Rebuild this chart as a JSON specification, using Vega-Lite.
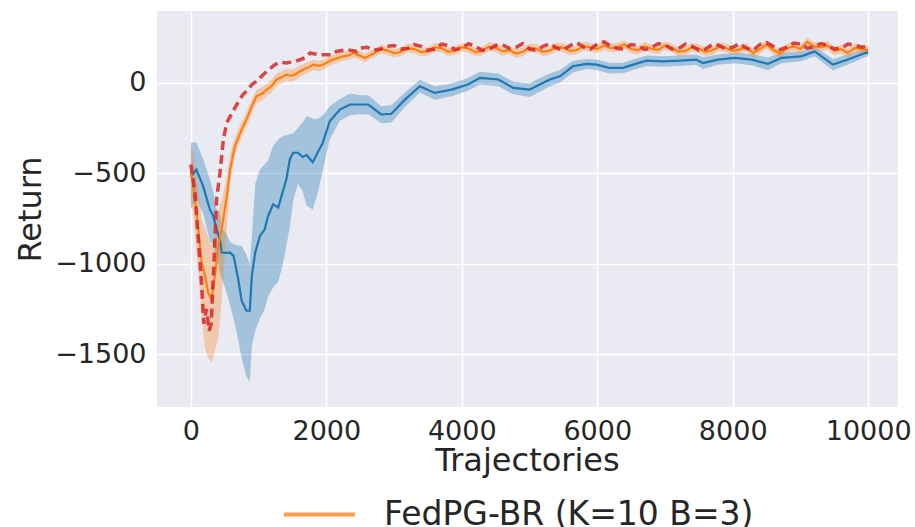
{
  "$schema": "https://vega.github.io/schema/vega-lite/v6.json",
  "width": 741,
  "height": 396,
  "autosize": {"type": "none"},
  "padding": {"left": 157, "top": 11, "right": 17, "bottom": 120},
  "background": "white",
  "config": {
    "view": {"fill": "#EAEAF2", "stroke": null},
    "axis": {
      "grid": true, "gridColor": "white", "gridWidth": 1.5,
      "domain": false, "ticks": false,
      "labelFont": "DejaVu Sans", "labelFontSize": 27, "labelColor": "#262626",
      "titleFont": "DejaVu Sans", "titleFontSize": 32, "titleFontWeight": "normal", "titleColor": "#262626"
    }
  },
  "datasets": {
    "blue": [
      {"s":"FedPG-BR (K=1)","t":0,"r":-520,"lo":-700,"hi":-330},
      {"s":"FedPG-BR (K=1)","t":80,"r":-480,"lo":-640,"hi":-330},
      {"s":"FedPG-BR (K=1)","t":180,"r":-570,"lo":-720,"hi":-420},
      {"s":"FedPG-BR (K=1)","t":280,"r":-700,"lo":-870,"hi":-534},
      {"s":"FedPG-BR (K=1)","t":330,"r":-736,"lo":-900,"hi":-600},
      {"s":"FedPG-BR (K=1)","t":380,"r":-810,"lo":-960,"hi":-700},
      {"s":"FedPG-BR (K=1)","t":430,"r":-870,"lo":-1050,"hi":-720},
      {"s":"FedPG-BR (K=1)","t":455,"r":-938,"lo":-1080,"hi":-800},
      {"s":"FedPG-BR (K=1)","t":520,"r":-940,"lo":-1150,"hi":-830},
      {"s":"FedPG-BR (K=1)","t":580,"r":-938,"lo":-1230,"hi":-880},
      {"s":"FedPG-BR (K=1)","t":630,"r":-956,"lo":-1300,"hi":-890},
      {"s":"FedPG-BR (K=1)","t":700,"r":-1085,"lo":-1420,"hi":-900},
      {"s":"FedPG-BR (K=1)","t":750,"r":-1204,"lo":-1520,"hi":-900},
      {"s":"FedPG-BR (K=1)","t":820,"r":-1259,"lo":-1620,"hi":-950},
      {"s":"FedPG-BR (K=1)","t":870,"r":-1259,"lo":-1650,"hi":-1000},
      {"s":"FedPG-BR (K=1)","t":900,"r":-1067,"lo":-1450,"hi":-850},
      {"s":"FedPG-BR (K=1)","t":950,"r":-938,"lo":-1370,"hi":-560},
      {"s":"FedPG-BR (K=1)","t":1020,"r":-846,"lo":-1300,"hi":-480},
      {"s":"FedPG-BR (K=1)","t":1090,"r":-810,"lo":-1250,"hi":-450},
      {"s":"FedPG-BR (K=1)","t":1140,"r":-736,"lo":-1180,"hi":-430},
      {"s":"FedPG-BR (K=1)","t":1215,"r":-672,"lo":-1130,"hi":-350},
      {"s":"FedPG-BR (K=1)","t":1290,"r":-690,"lo":-1100,"hi":-314},
      {"s":"FedPG-BR (K=1)","t":1360,"r":-598,"lo":-1000,"hi":-295},
      {"s":"FedPG-BR (K=1)","t":1410,"r":-534,"lo":-900,"hi":-290},
      {"s":"FedPG-BR (K=1)","t":1460,"r":-424,"lo":-800,"hi":-285},
      {"s":"FedPG-BR (K=1)","t":1510,"r":-387,"lo":-650,"hi":-280},
      {"s":"FedPG-BR (K=1)","t":1580,"r":-387,"lo":-560,"hi":-250},
      {"s":"FedPG-BR (K=1)","t":1650,"r":-410,"lo":-600,"hi":-220},
      {"s":"FedPG-BR (K=1)","t":1710,"r":-400,"lo":-680,"hi":-185},
      {"s":"FedPG-BR (K=1)","t":1800,"r":-440,"lo":-700,"hi":-200},
      {"s":"FedPG-BR (K=1)","t":1880,"r":-380,"lo":-600,"hi":-200},
      {"s":"FedPG-BR (K=1)","t":1950,"r":-330,"lo":-480,"hi":-180},
      {"s":"FedPG-BR (K=1)","t":2050,"r":-213,"lo":-314,"hi":-130},
      {"s":"FedPG-BR (K=1)","t":2200,"r":-149,"lo":-210,"hi":-90},
      {"s":"FedPG-BR (K=1)","t":2350,"r":-121,"lo":-180,"hi":-60},
      {"s":"FedPG-BR (K=1)","t":2500,"r":-121,"lo":-175,"hi":-70},
      {"s":"FedPG-BR (K=1)","t":2620,"r":-121,"lo":-175,"hi":-70},
      {"s":"FedPG-BR (K=1)","t":2810,"r":-176,"lo":-225,"hi":-130},
      {"s":"FedPG-BR (K=1)","t":2960,"r":-172,"lo":-220,"hi":-125},
      {"s":"FedPG-BR (K=1)","t":3160,"r":-94,"lo":-135,"hi":-55},
      {"s":"FedPG-BR (K=1)","t":3380,"r":-20,"lo":-55,"hi":15},
      {"s":"FedPG-BR (K=1)","t":3600,"r":-57,"lo":-95,"hi":-20},
      {"s":"FedPG-BR (K=1)","t":3850,"r":-39,"lo":-75,"hi":-5},
      {"s":"FedPG-BR (K=1)","t":4090,"r":-11,"lo":-45,"hi":25},
      {"s":"FedPG-BR (K=1)","t":4270,"r":26,"lo":-10,"hi":60},
      {"s":"FedPG-BR (K=1)","t":4540,"r":17,"lo":-20,"hi":50},
      {"s":"FedPG-BR (K=1)","t":4760,"r":-29,"lo":-65,"hi":5},
      {"s":"FedPG-BR (K=1)","t":5000,"r":-39,"lo":-80,"hi":-5},
      {"s":"FedPG-BR (K=1)","t":5150,"r":-11,"lo":-50,"hi":25},
      {"s":"FedPG-BR (K=1)","t":5300,"r":17,"lo":-20,"hi":50},
      {"s":"FedPG-BR (K=1)","t":5450,"r":35,"lo":0,"hi":70},
      {"s":"FedPG-BR (K=1)","t":5640,"r":90,"lo":55,"hi":120},
      {"s":"FedPG-BR (K=1)","t":5840,"r":103,"lo":75,"hi":130},
      {"s":"FedPG-BR (K=1)","t":5990,"r":99,"lo":70,"hi":128},
      {"s":"FedPG-BR (K=1)","t":6180,"r":81,"lo":50,"hi":110},
      {"s":"FedPG-BR (K=1)","t":6380,"r":81,"lo":52,"hi":110},
      {"s":"FedPG-BR (K=1)","t":6530,"r":99,"lo":70,"hi":128},
      {"s":"FedPG-BR (K=1)","t":6730,"r":121,"lo":92,"hi":150},
      {"s":"FedPG-BR (K=1)","t":6970,"r":117,"lo":88,"hi":145},
      {"s":"FedPG-BR (K=1)","t":7220,"r":121,"lo":92,"hi":150},
      {"s":"FedPG-BR (K=1)","t":7460,"r":127,"lo":98,"hi":155},
      {"s":"FedPG-BR (K=1)","t":7560,"r":108,"lo":75,"hi":140},
      {"s":"FedPG-BR (K=1)","t":7780,"r":127,"lo":98,"hi":155},
      {"s":"FedPG-BR (K=1)","t":8030,"r":136,"lo":107,"hi":165},
      {"s":"FedPG-BR (K=1)","t":8280,"r":127,"lo":96,"hi":158},
      {"s":"FedPG-BR (K=1)","t":8520,"r":103,"lo":68,"hi":138},
      {"s":"FedPG-BR (K=1)","t":8720,"r":136,"lo":107,"hi":165},
      {"s":"FedPG-BR (K=1)","t":9010,"r":145,"lo":118,"hi":172},
      {"s":"FedPG-BR (K=1)","t":9210,"r":172,"lo":146,"hi":198},
      {"s":"FedPG-BR (K=1)","t":9480,"r":99,"lo":68,"hi":130},
      {"s":"FedPG-BR (K=1)","t":9700,"r":127,"lo":98,"hi":155},
      {"s":"FedPG-BR (K=1)","t":9950,"r":163,"lo":140,"hi":185},
      {"s":"FedPG-BR (K=1)","t":10000,"r":165,"lo":145,"hi":185}
    ],
    "orange": [
      {"s":"FedPG-BR (K=10 B=3)","t":0,"r":-497,"lo":-650,"hi":-341},
      {"s":"FedPG-BR (K=10 B=3)","t":40,"r":-571,"lo":-760,"hi":-400},
      {"s":"FedPG-BR (K=10 B=3)","t":110,"r":-810,"lo":-1050,"hi":-600},
      {"s":"FedPG-BR (K=10 B=3)","t":160,"r":-993,"lo":-1300,"hi":-750},
      {"s":"FedPG-BR (K=10 B=3)","t":210,"r":-1067,"lo":-1470,"hi":-800},
      {"s":"FedPG-BR (K=10 B=3)","t":255,"r":-1158,"lo":-1520,"hi":-850},
      {"s":"FedPG-BR (K=10 B=3)","t":305,"r":-1195,"lo":-1544,"hi":-900},
      {"s":"FedPG-BR (K=10 B=3)","t":355,"r":-1067,"lo":-1480,"hi":-850},
      {"s":"FedPG-BR (K=10 B=3)","t":405,"r":-901,"lo":-1415,"hi":-700},
      {"s":"FedPG-BR (K=10 B=3)","t":455,"r":-810,"lo":-1200,"hi":-650},
      {"s":"FedPG-BR (K=10 B=3)","t":530,"r":-626,"lo":-800,"hi":-520},
      {"s":"FedPG-BR (K=10 B=3)","t":580,"r":-479,"lo":-560,"hi":-400},
      {"s":"FedPG-BR (K=10 B=3)","t":650,"r":-351,"lo":-400,"hi":-300},
      {"s":"FedPG-BR (K=10 B=3)","t":750,"r":-259,"lo":-300,"hi":-215},
      {"s":"FedPG-BR (K=10 B=3)","t":820,"r":-204,"lo":-245,"hi":-165},
      {"s":"FedPG-BR (K=10 B=3)","t":900,"r":-130,"lo":-170,"hi":-95},
      {"s":"FedPG-BR (K=10 B=3)","t":970,"r":-75,"lo":-112,"hi":-40},
      {"s":"FedPG-BR (K=10 B=3)","t":1050,"r":-62,"lo":-100,"hi":-25},
      {"s":"FedPG-BR (K=10 B=3)","t":1120,"r":-39,"lo":-75,"hi":-5},
      {"s":"FedPG-BR (K=10 B=3)","t":1190,"r":-20,"lo":-55,"hi":15},
      {"s":"FedPG-BR (K=10 B=3)","t":1265,"r":17,"lo":-18,"hi":50},
      {"s":"FedPG-BR (K=10 B=3)","t":1340,"r":30,"lo":-5,"hi":63},
      {"s":"FedPG-BR (K=10 B=3)","t":1410,"r":44,"lo":10,"hi":78},
      {"s":"FedPG-BR (K=10 B=3)","t":1470,"r":38,"lo":4,"hi":72},
      {"s":"FedPG-BR (K=10 B=3)","t":1535,"r":44,"lo":10,"hi":78},
      {"s":"FedPG-BR (K=10 B=3)","t":1600,"r":60,"lo":28,"hi":92},
      {"s":"FedPG-BR (K=10 B=3)","t":1660,"r":72,"lo":40,"hi":104},
      {"s":"FedPG-BR (K=10 B=3)","t":1740,"r":85,"lo":55,"hi":115},
      {"s":"FedPG-BR (K=10 B=3)","t":1810,"r":99,"lo":70,"hi":128},
      {"s":"FedPG-BR (K=10 B=3)","t":1880,"r":92,"lo":63,"hi":121},
      {"s":"FedPG-BR (K=10 B=3)","t":1950,"r":99,"lo":70,"hi":128},
      {"s":"FedPG-BR (K=10 B=3)","t":2030,"r":115,"lo":88,"hi":142},
      {"s":"FedPG-BR (K=10 B=3)","t":2100,"r":127,"lo":101,"hi":153},
      {"s":"FedPG-BR (K=10 B=3)","t":2170,"r":135,"lo":110,"hi":160},
      {"s":"FedPG-BR (K=10 B=3)","t":2250,"r":145,"lo":120,"hi":170},
      {"s":"FedPG-BR (K=10 B=3)","t":2330,"r":150,"lo":126,"hi":174},
      {"s":"FedPG-BR (K=10 B=3)","t":2400,"r":163,"lo":139,"hi":187},
      {"s":"FedPG-BR (K=10 B=3)","t":2490,"r":150,"lo":126,"hi":174},
      {"s":"FedPG-BR (K=10 B=3)","t":2570,"r":136,"lo":112,"hi":160},
      {"s":"FedPG-BR (K=10 B=3)","t":2640,"r":150,"lo":126,"hi":174},
      {"s":"FedPG-BR (K=10 B=3)","t":2700,"r":160,"lo":136,"hi":184},
      {"s":"FedPG-BR (K=10 B=3)","t":2800,"r":185,"lo":161,"hi":209},
      {"s":"FedPG-BR (K=10 B=3)","t":2900,"r":178,"lo":154,"hi":202},
      {"s":"FedPG-BR (K=10 B=3)","t":3000,"r":162,"lo":138,"hi":186},
      {"s":"FedPG-BR (K=10 B=3)","t":3100,"r":170,"lo":146,"hi":194},
      {"s":"FedPG-BR (K=10 B=3)","t":3200,"r":190,"lo":166,"hi":214},
      {"s":"FedPG-BR (K=10 B=3)","t":3300,"r":185,"lo":161,"hi":209},
      {"s":"FedPG-BR (K=10 B=3)","t":3400,"r":168,"lo":144,"hi":192},
      {"s":"FedPG-BR (K=10 B=3)","t":3500,"r":172,"lo":148,"hi":196},
      {"s":"FedPG-BR (K=10 B=3)","t":3600,"r":195,"lo":171,"hi":219},
      {"s":"FedPG-BR (K=10 B=3)","t":3700,"r":190,"lo":166,"hi":214},
      {"s":"FedPG-BR (K=10 B=3)","t":3800,"r":170,"lo":146,"hi":194},
      {"s":"FedPG-BR (K=10 B=3)","t":3900,"r":176,"lo":152,"hi":200},
      {"s":"FedPG-BR (K=10 B=3)","t":4000,"r":195,"lo":171,"hi":219},
      {"s":"FedPG-BR (K=10 B=3)","t":4100,"r":188,"lo":164,"hi":212},
      {"s":"FedPG-BR (K=10 B=3)","t":4200,"r":168,"lo":144,"hi":192},
      {"s":"FedPG-BR (K=10 B=3)","t":4300,"r":175,"lo":151,"hi":199},
      {"s":"FedPG-BR (K=10 B=3)","t":4400,"r":198,"lo":174,"hi":222},
      {"s":"FedPG-BR (K=10 B=3)","t":4500,"r":193,"lo":169,"hi":217},
      {"s":"FedPG-BR (K=10 B=3)","t":4600,"r":172,"lo":148,"hi":196},
      {"s":"FedPG-BR (K=10 B=3)","t":4700,"r":180,"lo":156,"hi":204},
      {"s":"FedPG-BR (K=10 B=3)","t":4800,"r":160,"lo":136,"hi":184},
      {"s":"FedPG-BR (K=10 B=3)","t":4900,"r":170,"lo":146,"hi":194},
      {"s":"FedPG-BR (K=10 B=3)","t":5000,"r":192,"lo":168,"hi":216},
      {"s":"FedPG-BR (K=10 B=3)","t":5100,"r":188,"lo":164,"hi":212},
      {"s":"FedPG-BR (K=10 B=3)","t":5200,"r":170,"lo":146,"hi":194},
      {"s":"FedPG-BR (K=10 B=3)","t":5300,"r":176,"lo":152,"hi":200},
      {"s":"FedPG-BR (K=10 B=3)","t":5400,"r":198,"lo":174,"hi":222},
      {"s":"FedPG-BR (K=10 B=3)","t":5500,"r":192,"lo":168,"hi":216},
      {"s":"FedPG-BR (K=10 B=3)","t":5600,"r":175,"lo":151,"hi":199},
      {"s":"FedPG-BR (K=10 B=3)","t":5700,"r":180,"lo":156,"hi":204},
      {"s":"FedPG-BR (K=10 B=3)","t":5800,"r":200,"lo":176,"hi":224},
      {"s":"FedPG-BR (K=10 B=3)","t":5900,"r":195,"lo":171,"hi":219},
      {"s":"FedPG-BR (K=10 B=3)","t":6000,"r":185,"lo":161,"hi":209},
      {"s":"FedPG-BR (K=10 B=3)","t":6100,"r":205,"lo":181,"hi":229},
      {"s":"FedPG-BR (K=10 B=3)","t":6200,"r":190,"lo":166,"hi":214},
      {"s":"FedPG-BR (K=10 B=3)","t":6300,"r":196,"lo":172,"hi":220},
      {"s":"FedPG-BR (K=10 B=3)","t":6400,"r":210,"lo":186,"hi":234},
      {"s":"FedPG-BR (K=10 B=3)","t":6500,"r":185,"lo":161,"hi":209},
      {"s":"FedPG-BR (K=10 B=3)","t":6600,"r":178,"lo":154,"hi":202},
      {"s":"FedPG-BR (K=10 B=3)","t":6700,"r":200,"lo":176,"hi":224},
      {"s":"FedPG-BR (K=10 B=3)","t":6800,"r":188,"lo":164,"hi":212},
      {"s":"FedPG-BR (K=10 B=3)","t":6900,"r":180,"lo":156,"hi":204},
      {"s":"FedPG-BR (K=10 B=3)","t":7000,"r":205,"lo":181,"hi":229},
      {"s":"FedPG-BR (K=10 B=3)","t":7100,"r":192,"lo":168,"hi":216},
      {"s":"FedPG-BR (K=10 B=3)","t":7200,"r":170,"lo":146,"hi":194},
      {"s":"FedPG-BR (K=10 B=3)","t":7300,"r":175,"lo":151,"hi":199},
      {"s":"FedPG-BR (K=10 B=3)","t":7400,"r":195,"lo":171,"hi":219},
      {"s":"FedPG-BR (K=10 B=3)","t":7500,"r":188,"lo":164,"hi":212},
      {"s":"FedPG-BR (K=10 B=3)","t":7600,"r":170,"lo":146,"hi":194},
      {"s":"FedPG-BR (K=10 B=3)","t":7700,"r":178,"lo":154,"hi":202},
      {"s":"FedPG-BR (K=10 B=3)","t":7800,"r":198,"lo":174,"hi":222},
      {"s":"FedPG-BR (K=10 B=3)","t":7900,"r":191,"lo":167,"hi":215},
      {"s":"FedPG-BR (K=10 B=3)","t":8000,"r":175,"lo":151,"hi":199},
      {"s":"FedPG-BR (K=10 B=3)","t":8100,"r":182,"lo":158,"hi":206},
      {"s":"FedPG-BR (K=10 B=3)","t":8200,"r":195,"lo":171,"hi":219},
      {"s":"FedPG-BR (K=10 B=3)","t":8300,"r":163,"lo":139,"hi":187},
      {"s":"FedPG-BR (K=10 B=3)","t":8400,"r":185,"lo":161,"hi":209},
      {"s":"FedPG-BR (K=10 B=3)","t":8500,"r":210,"lo":186,"hi":234},
      {"s":"FedPG-BR (K=10 B=3)","t":8600,"r":180,"lo":156,"hi":204},
      {"s":"FedPG-BR (K=10 B=3)","t":8700,"r":160,"lo":136,"hi":184},
      {"s":"FedPG-BR (K=10 B=3)","t":8800,"r":190,"lo":166,"hi":214},
      {"s":"FedPG-BR (K=10 B=3)","t":8900,"r":200,"lo":176,"hi":224},
      {"s":"FedPG-BR (K=10 B=3)","t":9000,"r":185,"lo":161,"hi":209},
      {"s":"FedPG-BR (K=10 B=3)","t":9100,"r":225,"lo":201,"hi":249},
      {"s":"FedPG-BR (K=10 B=3)","t":9200,"r":200,"lo":176,"hi":224},
      {"s":"FedPG-BR (K=10 B=3)","t":9300,"r":195,"lo":171,"hi":219},
      {"s":"FedPG-BR (K=10 B=3)","t":9400,"r":205,"lo":181,"hi":229},
      {"s":"FedPG-BR (K=10 B=3)","t":9500,"r":175,"lo":151,"hi":199},
      {"s":"FedPG-BR (K=10 B=3)","t":9600,"r":185,"lo":161,"hi":209},
      {"s":"FedPG-BR (K=10 B=3)","t":9700,"r":163,"lo":139,"hi":187},
      {"s":"FedPG-BR (K=10 B=3)","t":9800,"r":190,"lo":166,"hi":214},
      {"s":"FedPG-BR (K=10 B=3)","t":9900,"r":185,"lo":161,"hi":209},
      {"s":"FedPG-BR (K=10 B=3)","t":10000,"r":180,"lo":156,"hi":204}
    ],
    "red": [
      {"s":"FedPG-BR (K=10)","t":0,"r":-452},
      {"s":"FedPG-BR (K=10)","t":60,"r":-607},
      {"s":"FedPG-BR (K=10)","t":110,"r":-865},
      {"s":"FedPG-BR (K=10)","t":160,"r":-1122},
      {"s":"FedPG-BR (K=10)","t":190,"r":-1330},
      {"s":"FedPG-BR (K=10)","t":230,"r":-1250},
      {"s":"FedPG-BR (K=10)","t":270,"r":-1370},
      {"s":"FedPG-BR (K=10)","t":300,"r":-1330},
      {"s":"FedPG-BR (K=10)","t":340,"r":-1000},
      {"s":"FedPG-BR (K=10)","t":380,"r":-644},
      {"s":"FedPG-BR (K=10)","t":430,"r":-497},
      {"s":"FedPG-BR (K=10)","t":480,"r":-314},
      {"s":"FedPG-BR (K=10)","t":530,"r":-222},
      {"s":"FedPG-BR (K=10)","t":590,"r":-180},
      {"s":"FedPG-BR (K=10)","t":650,"r":-140},
      {"s":"FedPG-BR (K=10)","t":710,"r":-100},
      {"s":"FedPG-BR (K=10)","t":770,"r":-66},
      {"s":"FedPG-BR (K=10)","t":840,"r":-40},
      {"s":"FedPG-BR (K=10)","t":900,"r":-11},
      {"s":"FedPG-BR (K=10)","t":960,"r":5},
      {"s":"FedPG-BR (K=10)","t":1020,"r":26},
      {"s":"FedPG-BR (K=10)","t":1120,"r":62},
      {"s":"FedPG-BR (K=10)","t":1240,"r":99},
      {"s":"FedPG-BR (K=10)","t":1320,"r":112},
      {"s":"FedPG-BR (K=10)","t":1410,"r":108},
      {"s":"FedPG-BR (K=10)","t":1540,"r":117},
      {"s":"FedPG-BR (K=10)","t":1680,"r":136},
      {"s":"FedPG-BR (K=10)","t":1760,"r":163},
      {"s":"FedPG-BR (K=10)","t":1900,"r":154},
      {"s":"FedPG-BR (K=10)","t":2080,"r":154},
      {"s":"FedPG-BR (K=10)","t":2150,"r":172},
      {"s":"FedPG-BR (K=10)","t":2300,"r":182},
      {"s":"FedPG-BR (K=10)","t":2450,"r":172},
      {"s":"FedPG-BR (K=10)","t":2500,"r":190},
      {"s":"FedPG-BR (K=10)","t":2600,"r":195},
      {"s":"FedPG-BR (K=10)","t":2700,"r":178},
      {"s":"FedPG-BR (K=10)","t":2800,"r":185},
      {"s":"FedPG-BR (K=10)","t":2900,"r":200},
      {"s":"FedPG-BR (K=10)","t":3000,"r":205},
      {"s":"FedPG-BR (K=10)","t":3100,"r":185},
      {"s":"FedPG-BR (K=10)","t":3200,"r":188},
      {"s":"FedPG-BR (K=10)","t":3300,"r":210},
      {"s":"FedPG-BR (K=10)","t":3400,"r":200},
      {"s":"FedPG-BR (K=10)","t":3500,"r":178},
      {"s":"FedPG-BR (K=10)","t":3600,"r":185},
      {"s":"FedPG-BR (K=10)","t":3700,"r":212},
      {"s":"FedPG-BR (K=10)","t":3800,"r":205},
      {"s":"FedPG-BR (K=10)","t":3900,"r":182},
      {"s":"FedPG-BR (K=10)","t":4000,"r":190},
      {"s":"FedPG-BR (K=10)","t":4100,"r":215},
      {"s":"FedPG-BR (K=10)","t":4200,"r":200},
      {"s":"FedPG-BR (K=10)","t":4300,"r":178},
      {"s":"FedPG-BR (K=10)","t":4400,"r":182},
      {"s":"FedPG-BR (K=10)","t":4500,"r":205},
      {"s":"FedPG-BR (K=10)","t":4600,"r":210},
      {"s":"FedPG-BR (K=10)","t":4700,"r":188},
      {"s":"FedPG-BR (K=10)","t":4800,"r":195},
      {"s":"FedPG-BR (K=10)","t":4900,"r":215},
      {"s":"FedPG-BR (K=10)","t":5000,"r":185},
      {"s":"FedPG-BR (K=10)","t":5100,"r":178},
      {"s":"FedPG-BR (K=10)","t":5200,"r":200},
      {"s":"FedPG-BR (K=10)","t":5300,"r":215},
      {"s":"FedPG-BR (K=10)","t":5400,"r":190},
      {"s":"FedPG-BR (K=10)","t":5500,"r":180},
      {"s":"FedPG-BR (K=10)","t":5600,"r":205},
      {"s":"FedPG-BR (K=10)","t":5700,"r":220},
      {"s":"FedPG-BR (K=10)","t":5800,"r":195},
      {"s":"FedPG-BR (K=10)","t":5900,"r":185},
      {"s":"FedPG-BR (K=10)","t":6000,"r":212},
      {"s":"FedPG-BR (K=10)","t":6100,"r":225},
      {"s":"FedPG-BR (K=10)","t":6200,"r":200},
      {"s":"FedPG-BR (K=10)","t":6300,"r":188},
      {"s":"FedPG-BR (K=10)","t":6400,"r":185},
      {"s":"FedPG-BR (K=10)","t":6500,"r":210},
      {"s":"FedPG-BR (K=10)","t":6600,"r":205},
      {"s":"FedPG-BR (K=10)","t":6700,"r":182},
      {"s":"FedPG-BR (K=10)","t":6800,"r":192},
      {"s":"FedPG-BR (K=10)","t":6900,"r":215},
      {"s":"FedPG-BR (K=10)","t":7000,"r":208},
      {"s":"FedPG-BR (K=10)","t":7100,"r":185},
      {"s":"FedPG-BR (K=10)","t":7200,"r":188},
      {"s":"FedPG-BR (K=10)","t":7300,"r":212},
      {"s":"FedPG-BR (K=10)","t":7400,"r":200},
      {"s":"FedPG-BR (K=10)","t":7500,"r":178},
      {"s":"FedPG-BR (K=10)","t":7600,"r":185},
      {"s":"FedPG-BR (K=10)","t":7700,"r":210},
      {"s":"FedPG-BR (K=10)","t":7800,"r":205},
      {"s":"FedPG-BR (K=10)","t":7900,"r":185},
      {"s":"FedPG-BR (K=10)","t":8000,"r":195},
      {"s":"FedPG-BR (K=10)","t":8100,"r":215},
      {"s":"FedPG-BR (K=10)","t":8200,"r":190},
      {"s":"FedPG-BR (K=10)","t":8300,"r":178},
      {"s":"FedPG-BR (K=10)","t":8400,"r":210},
      {"s":"FedPG-BR (K=10)","t":8500,"r":220},
      {"s":"FedPG-BR (K=10)","t":8600,"r":200},
      {"s":"FedPG-BR (K=10)","t":8700,"r":182},
      {"s":"FedPG-BR (K=10)","t":8800,"r":195},
      {"s":"FedPG-BR (K=10)","t":8900,"r":218},
      {"s":"FedPG-BR (K=10)","t":9000,"r":212},
      {"s":"FedPG-BR (K=10)","t":9100,"r":190},
      {"s":"FedPG-BR (K=10)","t":9200,"r":198},
      {"s":"FedPG-BR (K=10)","t":9300,"r":215},
      {"s":"FedPG-BR (K=10)","t":9400,"r":205},
      {"s":"FedPG-BR (K=10)","t":9500,"r":185},
      {"s":"FedPG-BR (K=10)","t":9600,"r":190},
      {"s":"FedPG-BR (K=10)","t":9700,"r":212},
      {"s":"FedPG-BR (K=10)","t":9800,"r":208},
      {"s":"FedPG-BR (K=10)","t":9900,"r":195},
      {"s":"FedPG-BR (K=10)","t":10000,"r":200}
    ]
  },
  "encoding": {
    "x": {
      "field": "t", "type": "quantitative",
      "scale": {"domain": [-500, 10440], "nice": false, "zero": false},
      "axis": {
        "values": [0, 2000, 4000, 6000, 8000, 10000], "format": "d",
        "labelPadding": 11, "title": "Trajectories",
        "titleX": 370, "titleY": 63, "titleBaseline": "alphabetic"
      }
    },
    "color": {
      "field": "s", "type": "nominal",
      "scale": {
        "domain": ["FedPG-BR (K=1)", "FedPG-BR (K=10 B=3)", "FedPG-BR (K=10)"],
        "range": ["#1f77b4", "#ff7f0e", "#d62728"]
      },
      "legend": {
        "values": ["FedPG-BR (K=10 B=3)"],
        "orient": "none", "legendX": 125, "legendY": 466,
        "title": null, "padding": 0,
        "symbolType": "stroke", "symbolSize": 5041, "symbolStrokeWidth": 4,
        "symbolOpacity": 0.75,
        "labelFont": "DejaVu Sans", "labelFontSize": 33, "labelColor": "#262626",
        "labelOffset": 27, "labelLimit": 600
      }
    }
  },
  "layer": [
    {
      "data": {"name": "blue"},
      "mark": {"type": "area", "opacity": 0.35},
      "encoding": {
        "y": {"field": "lo", "type": "quantitative"},
        "y2": {"field": "hi"}
      }
    },
    {
      "data": {"name": "orange"},
      "mark": {"type": "area", "opacity": 0.3},
      "encoding": {
        "y": {"field": "lo", "type": "quantitative"},
        "y2": {"field": "hi"}
      }
    },
    {
      "data": {"name": "blue"},
      "mark": {"type": "line", "strokeWidth": 2.2},
      "encoding": {
        "y": {
          "field": "r", "type": "quantitative",
          "scale": {"domain": [-1790, 395], "nice": false, "zero": false},
          "axis": {
            "values": [-1500, -1000, -500, 0], "format": "d",
            "labelPadding": 11, "title": "Return",
            "titleX": -117, "titleY": 198, "titleBaseline": "alphabetic", "titleAngle": -90
          }
        }
      }
    },
    {
      "data": {"name": "orange"},
      "mark": {"type": "line", "strokeWidth": 2.2},
      "encoding": {"y": {"field": "r", "type": "quantitative"}}
    },
    {
      "data": {"name": "red"},
      "mark": {"type": "line", "strokeWidth": 3.5, "strokeDash": [9, 5], "opacity": 0.85},
      "encoding": {"y": {"field": "r", "type": "quantitative"}}
    }
  ]
}
